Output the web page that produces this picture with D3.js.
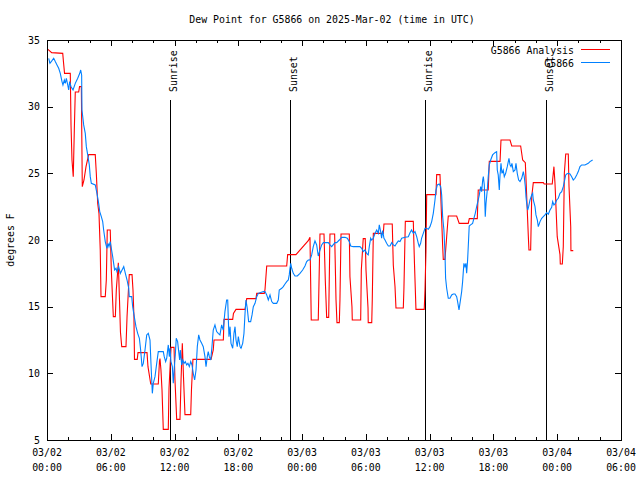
<!DOCTYPE html>
<html><head><meta charset="utf-8">
<script src="https://cdn.jsdelivr.net/npm/d3@7"></script>
<style>
body{margin:0;background:#fff}
text{font-family:"DejaVu Sans Mono","Liberation Mono",monospace;font-size:9.9px;fill:#000}
</style>
</head><body>
<svg id="chart" width="640" height="480"></svg>
<script>
// ---------- data (hours since 2025-03-02 00:00 UTC, dew point °F) ----------
const analysisHours = [0.09,0.44,1.48,1.55,1.65,2.19,2.26,2.35,2.47,2.57,2.66,2.98,3.06,3.23,3.32,3.48,3.67,3.92,4.54,4.64,4.77,4.89,5.01,5.08,5.48,5.58,5.67,5.95,6.05,6.24,6.43,6.52,6.71,6.82,6.91,7.03,7.43,7.53,7.67,7.74,8.0,8.09,8.18,8.23,8.49,8.56,9.41,9.50,9.76,10.47,10.58,10.63,10.72,10.82,10.94,11.41,11.48,11.67,11.95,12.04,12.20,12.51,12.61,12.73,12.84,12.98,13.52,13.59,13.73,15.43,15.64,15.71,16.59,16.65,17.47,17.54,17.78,18.63,18.79,19.66,19.73,20.44,20.51,20.67,22.55,22.64,23.42,24.58,24.74,24.86,25.52,25.68,26.06,26.18,26.31,26.50,26.62,27.06,27.19,27.28,27.50,27.56,27.66,28.44,28.50,28.69,28.72,29.51,29.57,29.75,29.94,30.01,30.20,30.22,30.55,30.60,30.70,31.64,31.70,32.48,32.58,32.74,32.83,33.52,33.58,33.71,34.46,34.57,34.71,35.49,35.56,35.65,35.72,36.59,36.66,36.97,37.13,37.22,37.28,37.44,37.60,37.75,38.54,38.78,39.63,39.73,40.48,40.57,41.51,41.61,42.62,42.71,43.56,43.72,44.56,44.75,45.0,45.13,45.28,45.34,45.50,45.60,45.75,46.69,46.78,47.53,47.69,47.79,48.0,48.26,48.29,48.48,48.57,48.67,48.80,49.04,49.11,49.27,49.29,49.51];
const analysisValues = [34.3,34.05,34.0,33.35,32.5,32.5,28.6,26.0,24.75,28.25,31.1,31.1,31.5,31.5,24.0,24.5,25.5,26.4,26.4,25.0,22.75,22.0,19.25,15.75,15.75,17.0,20.75,20.75,17.75,14.25,14.25,16.25,18.3,15.5,13.1,12.0,12.0,14.25,16.4,17.4,17.4,16.25,14.25,11.05,11.05,11.55,11.55,10.5,9.2,9.2,10.9,11.1,10.25,8.75,5.8,5.8,8.9,11.95,11.95,9.5,6.55,6.55,9.5,12.25,9.75,6.9,6.9,8.75,11.05,11.05,11.75,12.5,12.5,14.05,14.05,14.5,14.8,14.8,15.6,15.6,16.0,16.0,16.3,18.05,18.05,18.9,18.9,19.95,20.2,14.0,14.0,20.45,20.45,17.0,14.2,14.2,20.45,20.45,15.5,13.8,13.8,15.5,20.45,20.45,17.25,15.0,14.0,14.0,17.75,20.1,20.1,17.75,14.9,13.8,13.8,15.5,20.5,20.5,21.2,21.2,18.1,16.5,14.9,14.9,16.4,21.4,21.4,18.25,14.8,14.8,16.25,19.1,23.4,23.4,24.9,24.9,21.5,19.6,18.55,18.55,20.25,21.8,21.8,21.25,21.25,21.6,21.6,23.75,23.75,25.9,25.9,27.5,27.5,27.05,27.05,26.0,25.8,23.25,20.3,19.25,19.25,23.25,24.3,24.3,24.2,24.2,25.5,24.25,20.25,18.9,18.2,18.2,19.5,25.0,26.45,26.45,24.0,21.0,19.2,19.2];

const stationHours = [0.16,0.28,0.47,0.63,0.78,0.94,1.10,1.25,1.41,1.50,1.63,1.72,1.82,1.95,2.04,2.13,2.26,2.45,2.66,2.89,3.08,3.17,3.26,3.29,3.45,3.60,3.70,3.83,3.98,4.07,4.17,4.54,4.70,4.86,4.96,5.11,5.24,5.33,5.48,5.64,5.74,5.83,5.95,6.05,6.18,6.27,6.36,6.49,6.58,6.74,6.90,7.06,7.22,7.37,7.53,7.69,7.74,7.97,8.06,8.21,8.37,8.53,8.69,8.81,8.94,9.06,9.22,9.38,9.53,9.69,9.78,9.91,10.0,10.16,10.32,10.47,10.94,11.03,11.16,11.26,11.41,11.51,11.57,11.66,11.79,11.88,11.97,12.07,12.16,12.29,12.39,12.48,12.54,12.67,12.77,12.89,13.01,13.14,13.26,13.39,13.52,13.64,13.76,13.89,14.02,14.14,14.27,14.39,14.55,14.70,14.86,14.96,15.08,15.17,15.27,15.40,15.52,15.64,15.80,15.96,16.11,16.27,16.43,16.58,16.74,16.90,17.0,17.06,17.12,17.22,17.31,17.47,17.59,17.69,17.78,17.90,18.0,18.16,18.25,18.41,18.53,18.63,18.72,18.84,18.97,19.16,19.29,19.41,19.57,19.73,19.88,20.04,20.35,20.51,20.67,20.82,20.98,21.14,21.29,21.61,21.76,21.85,22.08,22.23,22.39,22.55,22.70,22.79,22.86,22.93,23.02,23.17,23.33,23.55,23.80,24.05,24.27,24.43,24.58,24.74,24.90,25.05,25.21,25.37,25.46,25.52,25.68,25.84,26.0,26.47,26.62,26.78,27.09,27.25,27.50,27.72,28.03,28.25,28.44,28.57,28.81,29.44,29.60,29.75,29.91,30.07,30.22,30.32,30.45,30.54,30.70,30.86,31.02,31.17,31.26,31.39,31.48,31.58,31.70,31.80,31.95,32.11,32.27,32.43,32.58,32.74,32.89,33.05,33.21,33.37,33.68,33.99,34.15,34.30,34.46,34.62,34.78,34.93,35.02,35.15,35.24,35.40,35.56,35.72,35.87,36.03,36.19,36.34,36.50,36.59,36.72,36.90,37.04,37.13,37.22,37.34,37.44,37.50,37.60,37.75,37.91,38.07,38.22,38.38,38.54,38.63,38.76,38.85,39.01,39.10,39.22,39.32,39.41,39.48,39.57,39.66,39.72,39.85,40.04,40.16,40.29,40.42,40.57,40.67,40.80,40.89,40.99,41.05,41.14,41.23,41.30,41.42,41.51,41.61,41.74,41.92,42.14,42.30,42.36,42.45,42.55,42.61,42.71,42.80,42.92,43.02,43.15,43.30,43.46,43.56,43.65,43.74,43.87,44.03,44.12,44.24,44.37,44.50,44.66,44.81,44.90,45.0,45.06,45.13,45.22,45.31,45.44,45.60,45.69,45.75,45.91,46.0,46.13,46.22,46.38,46.54,46.69,46.85,47.01,47.16,47.32,47.48,47.57,47.69,47.82,47.95,48.10,48.26,48.42,48.57,48.67,48.80,48.89,49.04,49.20,49.36,49.51,49.67,49.83,49.98,50.14,50.30,50.61,50.92,51.08,51.33];
const stationValues = [33.63,33.25,33.45,33.63,33.38,33.13,32.88,32.5,31.88,31.63,32.0,31.75,32.13,31.63,31.25,31.88,31.5,31.25,31.75,32.13,32.5,32.75,32.38,29.75,28.63,28.0,27.0,26.38,25.63,24.75,24.25,24.13,23.5,22.75,22.13,21.75,21.38,20.75,19.88,19.38,19.75,19.5,19.88,19.38,18.75,18.25,17.75,17.88,17.63,18.0,17.5,17.75,18.0,17.5,17.0,16.38,15.75,15.75,15.0,14.25,13.5,13.0,12.63,11.75,10.5,10.75,11.75,12.88,13.0,12.5,10.75,8.5,9.25,9.75,10.75,11.63,11.63,11.25,10.88,11.13,12.13,11.25,11.88,10.88,10.5,9.25,10.38,11.38,12.63,12.38,11.63,11.0,11.75,10.63,11.0,10.75,10.88,10.63,10.75,10.5,10.88,10.63,10.0,9.5,10.25,12.0,12.88,12.5,12.25,12.0,11.25,10.5,11.25,11.63,11.25,11.0,12.0,13.25,13.63,13.13,13.0,12.88,13.63,13.25,14.63,15.5,15.5,14.0,12.75,13.5,12.25,11.88,13.0,13.5,12.5,12.0,12.75,12.0,11.88,12.25,13.0,14.5,15.5,14.88,13.88,13.88,14.38,15.0,15.25,15.75,16.0,16.05,16.13,16.13,15.88,15.5,15.88,15.38,15.25,15.25,15.5,16.25,16.38,16.5,16.7,16.88,17.0,17.38,17.88,18.25,17.88,17.5,17.3,17.3,17.5,17.75,18.05,18.38,18.5,18.5,18.88,19.5,19.93,19.63,19.13,18.8,19.25,19.63,19.8,19.8,19.63,19.5,19.8,19.8,20.0,20.2,20.2,20.13,19.88,19.55,19.5,19.5,19.38,19.13,19.25,19.0,18.88,19.5,20.13,20.0,20.13,20.5,20.75,20.5,21.13,20.63,20.13,20.7,20.13,20.0,19.75,19.55,19.55,19.8,19.63,19.55,19.75,19.93,19.88,20.13,20.2,20.25,20.55,20.75,20.5,20.63,20.25,19.75,19.5,19.75,20.13,20.5,20.88,20.88,20.8,21.0,21.38,22.0,23.0,23.7,24.13,24.2,24.0,23.38,21.75,20.75,19.0,17.13,16.38,15.63,15.63,15.88,15.95,15.95,15.75,15.38,14.75,15.25,16.13,16.88,18.25,18.0,18.25,17.5,18.5,20.0,21.05,21.13,21.25,21.63,22.0,22.5,23.0,23.38,24.0,23.63,24.5,24.75,24.13,21.75,22.75,23.75,24.75,25.63,26.0,26.38,26.55,26.63,25.25,24.88,23.75,24.75,25.75,25.0,25.25,24.75,25.0,25.5,26.13,25.63,25.5,25.75,25.13,25.25,25.75,25.0,24.5,24.38,24.63,25.13,24.75,24.0,23.25,22.75,22.25,22.5,23.0,23.38,23.5,23.0,22.5,21.88,21.5,21.0,21.38,21.63,21.75,21.88,22.05,21.93,22.25,22.45,22.88,22.63,22.75,23.0,23.13,23.5,23.63,24.0,24.38,24.88,24.95,25.0,24.95,24.75,24.5,24.63,24.88,25.13,25.5,25.63,25.63,25.75,25.88,26.0];

const sunHours  = [11.57, 22.86, 35.56, 46.94];
const sunLabels = ["Sunrise", "Sunset", "Sunrise", "Sunset"];
const yTickValues = [5, 10, 15, 20, 25, 30, 35];
const majorTickHours = [0, 6, 12, 18, 24, 30, 36, 42, 48, 54];
const minorTickHours = [2, 4, 8, 10, 14, 16, 20, 22, 26, 28, 32, 34, 38, 40, 44, 46, 50, 52];
const seriesNames = ["G5866 Analysis", "G5866"];
const seriesColors = ["#ff0000", "#0080ff"];
const titleText = "Dew Point for G5866 on 2025-Mar-02 (time in UTC)";
const yLabelText = "degrees F";

// ---------- drawing ----------
const t0 = Date.UTC(2025, 2, 2);
const toDate = h => new Date(t0 + h * 3600e3);
const L = 47, R = 621, T = 40, B = 440;
const svg = d3.select("#chart");
const x = d3.scaleUtc().domain([toDate(0), toDate(54)]).range([L, R]);
const y = d3.scaleLinear().domain([5, 35]).range([B, T]);

svg.append("rect").attr("width", 640).attr("height", 480).attr("fill", "#fff");

// axes (inward ticks, mirrored)
const fmtDate = d3.utcFormat("%m/%d"), fmtTime = d3.utcFormat("%H:%M");
svg.append("g").attr("transform", `translate(0,${B})`)
  .call(d3.axisBottom(x).tickValues(majorTickHours.map(toDate)).tickSize(-6).tickFormat(""));
svg.append("g").attr("transform", `translate(0,${B})`)
  .call(d3.axisBottom(x).tickValues(minorTickHours.map(toDate)).tickSize(-3).tickFormat(""));
svg.append("g").attr("transform", `translate(0,${T})`)
  .call(d3.axisTop(x).tickValues(majorTickHours.map(toDate)).tickSize(-6).tickFormat(""));
svg.append("g").attr("transform", `translate(0,${T})`)
  .call(d3.axisTop(x).tickValues(minorTickHours.map(toDate)).tickSize(-3).tickFormat(""));
svg.append("g").attr("transform", `translate(${L},0)`)
  .call(d3.axisLeft(y).tickValues(yTickValues).tickSize(-6).tickPadding(7).tickFormat(d3.format("d")));
svg.append("g").attr("transform", `translate(${R},0)`)
  .call(d3.axisRight(y).tickValues(yTickValues).tickSize(-6).tickFormat(""));
svg.selectAll(".domain").remove();
svg.selectAll(".tick line").attr("stroke", "#000").attr("shape-rendering", "crispEdges");
svg.selectAll(".tick text").attr("font-family", null).attr("font-size", null);

// x tick labels (two lines)
const xl = svg.append("g");
majorTickHours.forEach(h => {
  const d = toDate(h);
  const t = xl.append("text").attr("x", x(d)).attr("text-anchor", "middle");
  t.append("tspan").attr("x", x(d)).attr("y", 456).text(fmtDate(d));
  t.append("tspan").attr("x", x(d)).attr("y", 471).text(fmtTime(d));
});

// sunrise / sunset
sunHours.forEach((h, i) => {
  const xx = Math.round(x(toDate(h))) + 0.5;
  svg.append("line").attr("x1", xx).attr("x2", xx).attr("y1", y(30.5)).attr("y2", B)
    .attr("stroke", "#000").attr("stroke-width", 1);
  svg.append("text").attr("transform", `translate(${xx + 6.5},92) rotate(-90)`)
    .attr("text-anchor", "start").text(sunLabels[i]);
});

// series
const line = d3.line().x(d => x(toDate(d[0]))).y(d => y(d[1]));
const analysis = analysisHours.map((h, i) => [h, analysisValues[i]]);
const station = stationHours.map((h, i) => [h, stationValues[i]]);
svg.append("path").datum(analysis).attr("d", line).attr("fill", "none")
  .attr("stroke", seriesColors[0]).attr("stroke-width", 1.1);
svg.append("path").datum(station).attr("d", line).attr("fill", "none")
  .attr("stroke", seriesColors[1]).attr("stroke-width", 1.1);

// border
svg.append("rect").attr("x", L + 0.5).attr("y", T + 0.5).attr("width", R - L).attr("height", B - T)
  .attr("fill", "none").attr("stroke", "#000").attr("stroke-width", 1);

// legend
seriesNames.forEach((n, i) => {
  const yy = 50 + i * 13;
  svg.append("text").attr("x", 574).attr("y", yy + 3.5).attr("text-anchor", "end").text(n);
  svg.append("line").attr("x1", 581).attr("x2", 610).attr("y1", yy - 0.5).attr("y2", yy - 0.5)
    .attr("stroke", seriesColors[i]).attr("stroke-width", 1);
});

// title & y label
svg.append("text").attr("x", 332).attr("y", 23).attr("text-anchor", "middle").text(titleText);
svg.append("text").attr("transform", "translate(14,240) rotate(-90)").attr("text-anchor", "middle").text(yLabelText);
</script>
</body></html>
